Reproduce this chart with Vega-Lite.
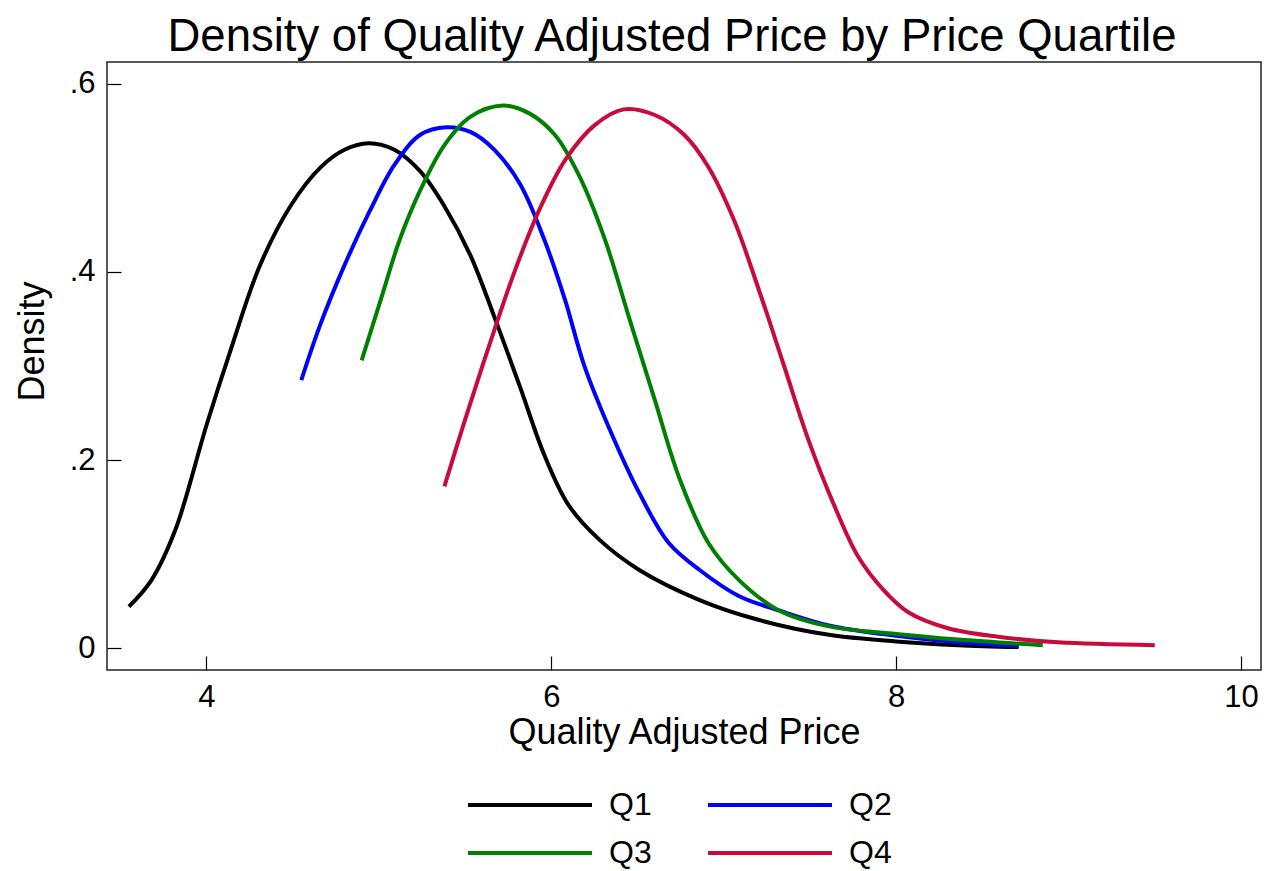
{
  "$schema": "https://vega.github.io/schema/vega-lite/v6.json",
  "width": 1154,
  "height": 608,
  "autosize": {"type": "none"},
  "padding": {"left": 107, "top": 62, "right": 3, "bottom": 201},
  "background": "white",
  "title": {
    "text": "Density of Quality Adjusted Price by Price Quartile",
    "font": "Liberation Sans",
    "fontSize": 45.5,
    "fontWeight": "normal",
    "color": "#000",
    "offset": 2,
    "dx": -12,
    "anchor": "middle",
    "frame": "group"
  },
  "config": {
    "view": {"stroke": "#222", "strokeWidth": 1.5},
    "font": "Liberation Sans"
  },
  "data": {
    "values": [
      {"q": "Q1", "x": 3.55, "y": 0.044},
      {"q": "Q1", "x": 3.68, "y": 0.072},
      {"q": "Q1", "x": 3.82, "y": 0.126},
      {"q": "Q1", "x": 4.0, "y": 0.237},
      {"q": "Q1", "x": 4.14, "y": 0.317},
      {"q": "Q1", "x": 4.31, "y": 0.407},
      {"q": "Q1", "x": 4.49, "y": 0.471},
      {"q": "Q1", "x": 4.66, "y": 0.511},
      {"q": "Q1", "x": 4.8, "y": 0.53},
      {"q": "Q1", "x": 4.94, "y": 0.537},
      {"q": "Q1", "x": 5.09, "y": 0.53},
      {"q": "Q1", "x": 5.24, "y": 0.507},
      {"q": "Q1", "x": 5.38, "y": 0.47},
      {"q": "Q1", "x": 5.53, "y": 0.418},
      {"q": "Q1", "x": 5.67, "y": 0.352},
      {"q": "Q1", "x": 5.82, "y": 0.277},
      {"q": "Q1", "x": 5.96, "y": 0.205},
      {"q": "Q1", "x": 6.1, "y": 0.152},
      {"q": "Q1", "x": 6.28, "y": 0.115},
      {"q": "Q1", "x": 6.51, "y": 0.083},
      {"q": "Q1", "x": 6.86, "y": 0.051},
      {"q": "Q1", "x": 7.2, "y": 0.03},
      {"q": "Q1", "x": 7.61, "y": 0.014},
      {"q": "Q1", "x": 8.0, "y": 0.007},
      {"q": "Q1", "x": 8.36, "y": 0.003},
      {"q": "Q1", "x": 8.71, "y": 0.001},
      {"q": "Q2", "x": 4.55, "y": 0.285},
      {"q": "Q2", "x": 4.66, "y": 0.344},
      {"q": "Q2", "x": 4.8, "y": 0.407},
      {"q": "Q2", "x": 4.95, "y": 0.466},
      {"q": "Q2", "x": 5.09, "y": 0.514},
      {"q": "Q2", "x": 5.24, "y": 0.546},
      {"q": "Q2", "x": 5.39, "y": 0.554},
      {"q": "Q2", "x": 5.53, "y": 0.549},
      {"q": "Q2", "x": 5.67, "y": 0.53},
      {"q": "Q2", "x": 5.82, "y": 0.493},
      {"q": "Q2", "x": 5.96, "y": 0.434},
      {"q": "Q2", "x": 6.08, "y": 0.37},
      {"q": "Q2", "x": 6.19, "y": 0.301},
      {"q": "Q2", "x": 6.34, "y": 0.232},
      {"q": "Q2", "x": 6.51, "y": 0.165},
      {"q": "Q2", "x": 6.68, "y": 0.112},
      {"q": "Q2", "x": 6.86, "y": 0.083},
      {"q": "Q2", "x": 7.09, "y": 0.055},
      {"q": "Q2", "x": 7.32, "y": 0.04},
      {"q": "Q2", "x": 7.61, "y": 0.024},
      {"q": "Q2", "x": 8.0, "y": 0.013},
      {"q": "Q2", "x": 8.36, "y": 0.006},
      {"q": "Q2", "x": 8.71, "y": 0.002},
      {"q": "Q3", "x": 4.9, "y": 0.306},
      {"q": "Q3", "x": 5.01, "y": 0.37},
      {"q": "Q3", "x": 5.12, "y": 0.434},
      {"q": "Q3", "x": 5.24, "y": 0.487},
      {"q": "Q3", "x": 5.38, "y": 0.535},
      {"q": "Q3", "x": 5.53, "y": 0.565},
      {"q": "Q3", "x": 5.72, "y": 0.577},
      {"q": "Q3", "x": 5.87, "y": 0.569},
      {"q": "Q3", "x": 6.02, "y": 0.546},
      {"q": "Q3", "x": 6.16, "y": 0.503},
      {"q": "Q3", "x": 6.31, "y": 0.435},
      {"q": "Q3", "x": 6.45, "y": 0.352},
      {"q": "Q3", "x": 6.6, "y": 0.264},
      {"q": "Q3", "x": 6.74, "y": 0.182},
      {"q": "Q3", "x": 6.91, "y": 0.112},
      {"q": "Q3", "x": 7.09, "y": 0.072},
      {"q": "Q3", "x": 7.32, "y": 0.04},
      {"q": "Q3", "x": 7.61, "y": 0.023},
      {"q": "Q3", "x": 8.0, "y": 0.015},
      {"q": "Q3", "x": 8.36, "y": 0.009},
      {"q": "Q3", "x": 8.85, "y": 0.003},
      {"q": "Q4", "x": 5.38, "y": 0.172},
      {"q": "Q4", "x": 5.5, "y": 0.243},
      {"q": "Q4", "x": 5.64, "y": 0.322},
      {"q": "Q4", "x": 5.79, "y": 0.402},
      {"q": "Q4", "x": 5.93, "y": 0.466},
      {"q": "Q4", "x": 6.08, "y": 0.519},
      {"q": "Q4", "x": 6.25, "y": 0.556},
      {"q": "Q4", "x": 6.42, "y": 0.573},
      {"q": "Q4", "x": 6.6, "y": 0.567},
      {"q": "Q4", "x": 6.77, "y": 0.546},
      {"q": "Q4", "x": 6.91, "y": 0.512},
      {"q": "Q4", "x": 7.06, "y": 0.455},
      {"q": "Q4", "x": 7.2, "y": 0.383},
      {"q": "Q4", "x": 7.35, "y": 0.3},
      {"q": "Q4", "x": 7.49, "y": 0.222},
      {"q": "Q4", "x": 7.64, "y": 0.152},
      {"q": "Q4", "x": 7.78, "y": 0.097},
      {"q": "Q4", "x": 7.93, "y": 0.061},
      {"q": "Q4", "x": 8.07, "y": 0.038},
      {"q": "Q4", "x": 8.3, "y": 0.021},
      {"q": "Q4", "x": 8.59, "y": 0.012},
      {"q": "Q4", "x": 8.94, "y": 0.006},
      {"q": "Q4", "x": 9.5, "y": 0.003}
    ]
  },
  "mark": {"type": "line", "interpolate": "catmull-rom", "strokeWidth": 4, "clip": true},
  "encoding": {
    "x": {
      "field": "x",
      "type": "quantitative",
      "scale": {"domain": [3.423, 10.116], "nice": false, "zero": false},
      "axis": {
        "title": "Quality Adjusted Price",
        "values": [4, 6, 8, 10],
        "grid": false,
        "domain": false,
        "offset": -14,
        "tickSize": 14,
        "tickColor": "#000",
        "tickWidth": 1.2,
        "labelFlush": false,
        "labelFontSize": 31,
        "labelColor": "#000",
        "labelPadding": 12,
        "titleFontSize": 36,
        "titleFontWeight": "normal",
        "titleColor": "#000",
        "titlePadding": 3
      }
    },
    "y": {
      "field": "y",
      "type": "quantitative",
      "scale": {"domain": [-0.0234, 0.6234], "nice": false, "zero": false},
      "axis": {
        "title": "Density",
        "values": [0, 0.2, 0.4, 0.6],
        "labelExpr": "datum.value == 0 ? '0' : replace(format(datum.value, '.1f'), '0.', '.')",
        "grid": false,
        "domain": false,
        "offset": -14,
        "tickSize": 14,
        "tickColor": "#000",
        "tickWidth": 1.2,
        "labelFlush": false,
        "labelFontSize": 31,
        "labelColor": "#000",
        "labelPadding": 12,
        "titleFontSize": 36,
        "titleFontWeight": "normal",
        "titleColor": "#000",
        "titlePadding": 18,
        "titleY": 279
      }
    },
    "color": {
      "field": "q",
      "type": "nominal",
      "scale": {
        "domain": ["Q1", "Q2", "Q3", "Q4"],
        "range": ["#000000", "#0000FF", "#008000", "#C80A3C"]
      },
      "legend": {
        "title": null,
        "orient": "none",
        "legendX": 396,
        "legendY": 716,
        "direction": "horizontal",
        "columns": 2,
        "columnPadding": 48,
        "rowPadding": 5,
        "padding": 0,
        "symbolType": "M-2.48,0H2.48",
        "symbolSize": 2500,
        "symbolStrokeWidth": 4,
        "symbolFillColor": "transparent",
        "labelFontSize": 32,
        "labelColor": "#000",
        "labelOffset": 52
      }
    }
  }
}
